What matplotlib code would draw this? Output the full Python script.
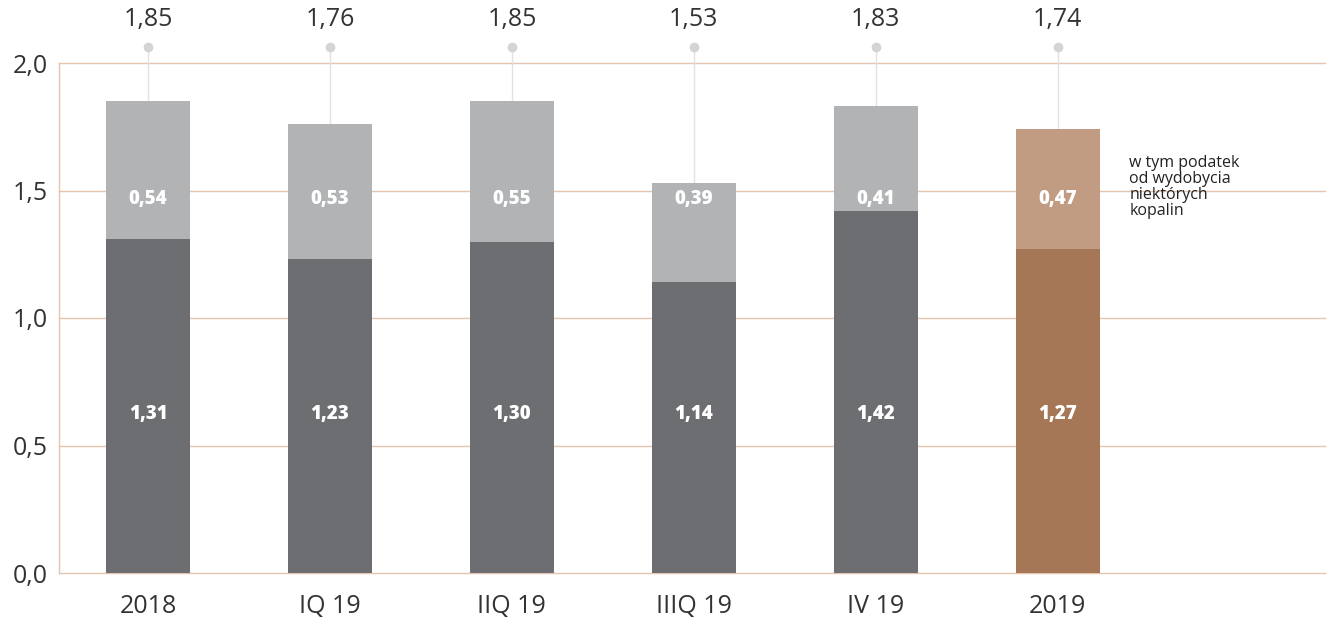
import matplotlib
matplotlib.use("Agg")
import matplotlib.pyplot as plt
import numpy as np

categories = ["2018", "IQ 19", "IIQ 19", "IIIQ 19", "IV 19", "2019"]
base = [1.31, 1.23, 1.30, 1.14, 1.42, 1.27]
tax = [0.54, 0.53, 0.55, 0.39, 0.41, 0.47]
totals = [1.85, 1.76, 1.85, 1.53, 1.83, 1.74]
yticks = [0.0, 0.5, 1.0, 1.5, 2.0]

plt.rcParams['font.family'] = ['Open Sans', 'DejaVu Sans']

dark_cols = ["#6d6e71"] * 5 + ["#a67756"]
light_cols = ["#b1b3b5"] * 5 + ["#c19b82"]
grid_col = "#e3c5b0"

fig = plt.figure(figsize=(13.3, 6.19), dpi=100)
ax = fig.add_axes([59/1330, 46/619, (1325-59)/1330, (573-63)/619])

x = np.arange(len(categories))
w = 0.462
ax.bar(x, base, width=w, color=dark_cols, zorder=3)
ax.bar(x, tax, bottom=base, width=w, color=light_cols, zorder=3)

ax.set_ylim(0, 2.0)
ax.set_xlim(-0.49, 6.47)
ax.set_yticks(yticks)
ax.set_yticklabels([f"{v:.1f}".replace(".", ",") for v in yticks])
ax.set_xticks(x)
ax.set_xticklabels(categories)
ax.tick_params(axis='both', length=0, labelsize=18, colors="#333333")
ax.tick_params(axis='y', pad=8)
ax.tick_params(axis='x', pad=15)
for yv in yticks[1:]:
    ax.axhline(yv, color=grid_col, linewidth=1, zorder=0, clip_on=False)
for s in ["top", "right"]:
    ax.spines[s].set_visible(False)
for s in ["left", "bottom"]:
    ax.spines[s].set_color(grid_col)
    ax.spines[s].set_linewidth(1)

dot_y = 2.063
lab_y = 2.17
base_lab_y = 0.625
tax_lab_y = 1.465
for i in range(len(categories)):
    ax.plot([x[i], x[i]], [totals[i], dot_y], color="#e2e2e2", lw=1, zorder=2, clip_on=False)
    ax.plot(x[i], dot_y, 'o', color="#d4d4d4", ms=6, zorder=4, clip_on=False)
    ax.text(x[i], lab_y, f"{totals[i]:.2f}".replace(".", ","), ha='center', va='center',
            fontsize=18, color="#333333", clip_on=False)
    ax.text(x[i], base_lab_y, f"{base[i]:.2f}".replace(".", ","), ha='center', va='center',
            fontsize=13.5, fontweight='heavy', color="white", zorder=5)
    ax.text(x[i], tax_lab_y, f"{tax[i]:.2f}".replace(".", ","), ha='center', va='center',
            fontsize=13.5, fontweight='heavy', color="white", zorder=5)

ax.text(5.395, 1.64, "w tym podatek\nod wydobycia\nniektórych\nkopalin", ha='left', va='top',
        fontsize=11.5, color="#222222", linespacing=1.0)

fig.savefig("out.png", dpi=100)
